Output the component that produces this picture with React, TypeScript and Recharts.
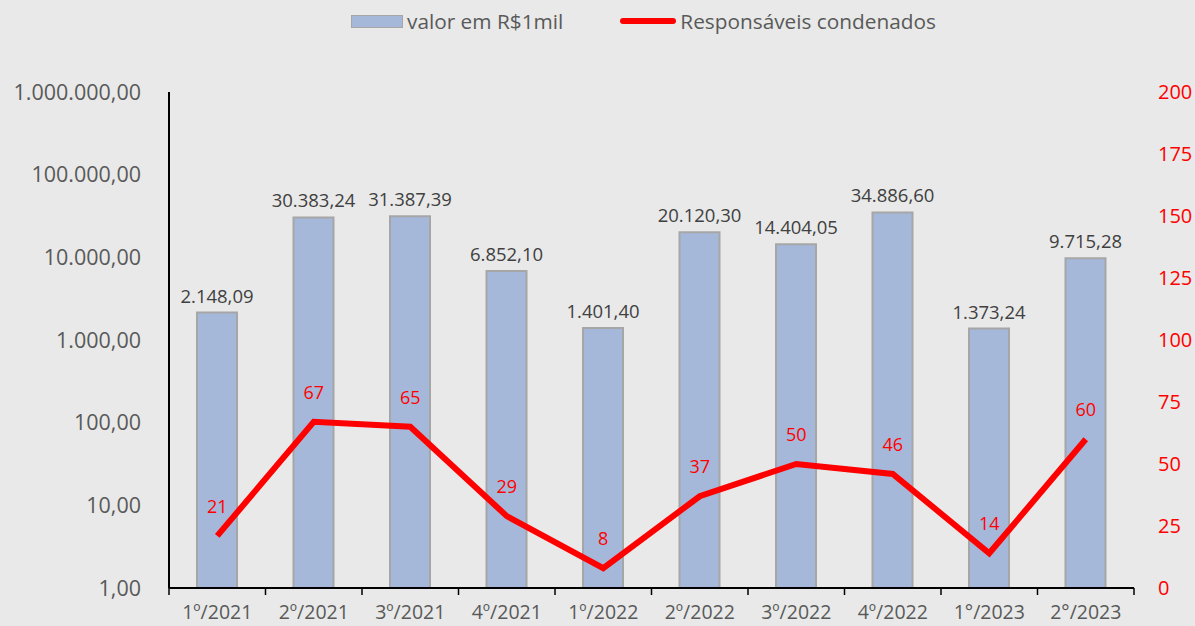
import React from 'react';
import { ComposedChart, Bar, Line, XAxis, YAxis, Legend, LabelList } from 'recharts';

const categories = ['1º/2021', '2º/2021', '3º/2021', '4º/2021', '1º/2022', '2º/2022', '3º/2022', '4º/2022', '1°/2023', '2°/2023'];
const valores = [2148.09, 30383.24, 31387.39, 6852.1, 1401.4, 20120.3, 14404.05, 34886.6, 1373.24, 9715.28];
const condenados = [21, 67, 65, 29, 8, 37, 50, 46, 14, 60];
const leftTicks = [1, 10, 100, 1000, 10000, 100000, 1000000];
const rightTicks = [0, 25, 50, 75, 100, 125, 150, 175, 200];

const data = categories.map((c, i) => ({ cat: c, valor: valores[i], resp: condenados[i] }));

const FONT = '"Open Sans", "Noto Sans", sans-serif';
const GRAY = '#595959';

function fmtBR(v: number): string {
  const fixed = v.toFixed(2);
  const [intPart, dec] = fixed.split('.');
  const withDots = intPart.replace(/\B(?=(\d{3})+(?!\d))/g, '.');
  return withDots + ',' + dec;
}

const HALF_BAND = 48.25;

const XTick = (props: any) => {
  const { x, y, payload, index } = props;
  return (
    <g>
      <line x1={x - HALF_BAND} y1={y} x2={x - HALF_BAND} y2={y + 7} stroke="#000" strokeWidth={1.5} />
      {index === categories.length - 1 && (
        <line x1={x + HALF_BAND} y1={y} x2={x + HALF_BAND} y2={y + 7} stroke="#000" strokeWidth={1.5} />
      )}
      <text x={x} y={y + 23} textAnchor="middle" dominantBaseline="central" fill={GRAY} fontSize={19.5} fontFamily={FONT}>
        {payload.value}
      </text>
    </g>
  );
};

const LegendContent = () => (
  <div style={{ display: 'flex', alignItems: 'center', paddingLeft: 351, fontFamily: FONT, fontSize: 20.8, color: GRAY, height: 30 }}>
    <span style={{ display: 'inline-block', width: 50, height: 11, background: '#a5b8d9', border: '1.5px solid #a6a6a6', marginRight: 4 }} />
    <span>valor em R$1mil</span>
    <span style={{ display: 'inline-block', width: 56, height: 6, background: '#ff0000', borderRadius: 3, marginLeft: 57, marginRight: 4 }} />
    <span>Responsáveis condenados</span>
  </div>
);

export default function App() {
  return (
    <div style={{ position: 'absolute', left: 0, top: 0, width: 1195, height: 626, background: '#e8e9e8' }}>
      <ComposedChart width={1195} height={626} data={data} margin={{ top: 92, right: 0, bottom: 0, left: 0 }} barCategoryGap={0}>
        <Legend verticalAlign="middle" layout="horizontal" content={<LegendContent />} wrapperStyle={{ top: 6, left: 0, width: 1195 }} />
        <XAxis
          dataKey="cat"
          height={38}
          axisLine={{ stroke: '#000', strokeWidth: 2 }}
          tickLine={false}
          tickSize={0}
          tickMargin={0}
          tick={<XTick />}
          interval={0}
        />
        <YAxis
          yAxisId="left"
          scale="log"
          domain={[1, 1000000]}
          ticks={leftTicks}
          allowDataOverflow
          width={169}
          axisLine={{ stroke: '#000', strokeWidth: 2 }}
          tickLine={false}
          tickSize={0}
          tickMargin={28}
          tickFormatter={fmtBR}
          tick={{ fill: GRAY, fontSize: 21.5, fontFamily: FONT }}
          interval={0}
        />
        <YAxis
          yAxisId="right"
          orientation="right"
          domain={[0, 200]}
          ticks={rightTicks}
          width={61}
          axisLine={false}
          tickLine={false}
          tickSize={0}
          tickMargin={24}
          tick={{ fill: '#ff0000', fontSize: 20, fontFamily: FONT, textAnchor: 'start' }}
          interval={0}
        />
        <Bar yAxisId="left" dataKey="valor" barSize={40} fill="#a5b8d9" stroke="#a6a6a6" strokeWidth={2} isAnimationActive={false}>
          <LabelList dataKey="valor" position="top" offset={10} formatter={(v: any) => fmtBR(Number(v))} fill="#404040" fontSize={18.5} fontFamily={FONT} />
        </Bar>
        <Line yAxisId="right" dataKey="resp" type="linear" stroke="#ff0000" strokeWidth={6} dot={false} activeDot={false} isAnimationActive={false}>
          <LabelList dataKey="resp" position="top" offset={23} fill="#ff0000" fontSize={18} fontFamily={FONT} />
        </Line>
      </ComposedChart>
    </div>
  );
}
